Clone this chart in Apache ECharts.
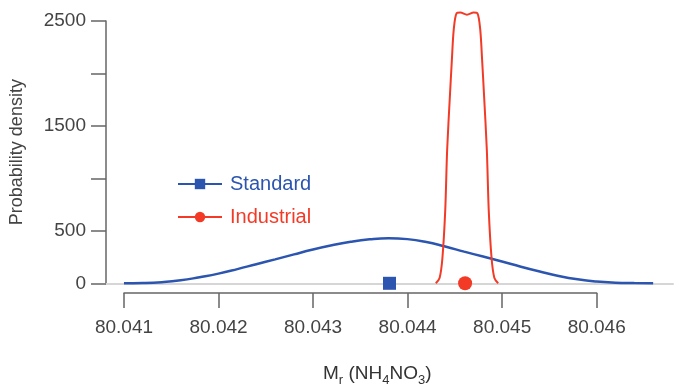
<!DOCTYPE html>
<html>
<head>
<meta charset="utf-8">
<script src="https://cdn.jsdelivr.net/npm/echarts@6/dist/echarts.min.js"></script>
<style>
html, body { margin: 0; padding: 0; background: #fff; }
#chart { width: 692px; height: 384px; }
</style>
</head>
<body>
<div id="chart"></div>
<script>
// Standard (blue) distribution
var standardX = [80.0410, 80.0412, 80.0414, 80.0416, 80.0418, 80.0420, 80.0422, 80.0424, 80.0426, 80.0428,
                 80.0430, 80.0432, 80.0434, 80.0436, 80.0438, 80.0440, 80.0442, 80.0444, 80.0446, 80.0448,
                 80.0450, 80.0452, 80.0454, 80.0456, 80.0458, 80.0460, 80.0462, 80.0464, 80.0466];
var standardY = [0, 2, 10, 28, 58, 92, 135, 182, 228, 276,
                 322, 362, 396, 419, 429, 421, 394, 350, 302, 255,
                 208, 158, 112, 70, 38, 17, 6, 2, 0];

// Industrial (red) distribution
var industrialX = [80.04430, 80.04434, 80.04437, 80.04440, 80.04442, 80.04445, 80.04447, 80.04449, 80.04452, 80.04456,
                   80.04463, 80.04470, 80.04474, 80.04477, 80.04479, 80.04481, 80.04484, 80.04486, 80.04489, 80.04492, 80.04496];
var industrialY = [0, 50, 241, 700, 1271, 1800, 2129, 2420, 2574, 2580,
                   2560, 2580, 2574, 2420, 2129, 1800, 1271, 700, 241, 50, 0];

// means shown as markers on the zero line
var standardMean = [80.04381, 0];
var industrialMean = [80.04461, 0];

var xTickMin = 80.041, xTickMax = 80.046, xTickStep = 0.001;
var yLabels = [0, 500, 1500, 2500];

var blue = '#2c55b0';
var red = '#f23a26';

function pairs(xs, ys) {
	return xs.map(function (x, i) { return [x, ys[i]]; });
}

var myChart = echarts.init(document.getElementById('chart'));
var option = {
	animation: false,
	title: {
		text: '{n|M}{s|r}{n| (NH}{s|4}{n|NO}{s|3}{n|)}',
		left: 318,
		top: 356,
		textStyle: {
			fontWeight: 'normal',
			rich: {
				n: { fontSize: 19, fontWeight: 'normal', fontFamily: 'Liberation Sans', color: '#333', lineHeight: 26, verticalAlign: 'middle' },
				s: { fontSize: 13, fontWeight: 'normal', fontFamily: 'Liberation Sans', color: '#333', lineHeight: 16, verticalAlign: 'bottom' }
			}
		}
	},
	legend: {
		orient: 'vertical',
		left: 177,
		top: 174,
		padding: 0,
		itemWidth: 44,
		itemHeight: 13,
		itemGap: 13,
		data: [
			{ name: 'Standard', textStyle: { color: blue } },
			{ name: 'Industrial', textStyle: { color: red } }
		],
		textStyle: {
			fontSize: 20,
			fontFamily: 'Liberation Sans',
			padding: [0, 0, 0, 3]
		}
	},
	grid: [
		{ left: 106, right: 19, top: 21, bottom: 100.7 },
		{ left: 124, right: 95.3, top: 250, bottom: 91 }
	],
	xAxis: [
		{
			type: 'value',
			gridIndex: 0,
			min: 80.04081,
			max: 80.04681,
			axisLine: { show: true, lineStyle: { color: '#d6d6d6', width: 2 } },
			axisTick: { show: false },
			axisLabel: { show: false },
			splitLine: { show: false }
		},
		{
			type: 'value',
			gridIndex: 1,
			min: xTickMin,
			max: xTickMax,
			interval: xTickStep,
			axisLine: { show: true, lineStyle: { color: '#666', width: 1.5 } },
			axisTick: { show: true, length: 15, lineStyle: { color: '#666', width: 1.5 } },
			axisLabel: {
				margin: 25,
				fontSize: 19,
				fontFamily: 'Liberation Sans',
				color: '#444',
				formatter: function (v) { return v.toFixed(3); }
			},
			splitLine: { show: false }
		}
	],
	yAxis: [
		{
			type: 'value',
			gridIndex: 0,
			min: 0,
			max: 2500,
			interval: 500,
			name: 'Probability density',
			nameLocation: 'middle',
			nameGap: 80,
			nameTextStyle: { fontSize: 18, fontFamily: 'Liberation Sans', color: '#444' },
			axisLine: { show: true, lineStyle: { color: '#666', width: 1.5 } },
			axisTick: { show: true, length: 15, lineStyle: { color: '#666', width: 1.5 } },
			axisLabel: {
				margin: 20,
				fontSize: 19,
				fontFamily: 'Liberation Sans',
				color: '#444',
				formatter: function (v) { return yLabels.indexOf(v) >= 0 ? String(v) : ''; }
			},
			splitLine: { show: false }
		},
		{ type: 'value', gridIndex: 1, show: false }
	],
	series: [
		{
			name: 'Standard',
			type: 'line',
			xAxisIndex: 0,
			yAxisIndex: 0,
			smooth: 0.5,
			clip: false,
			symbol: 'rect',
			symbolSize: 11,
			showSymbol: false,
			itemStyle: { color: blue },
			lineStyle: { color: blue, width: 2.5 },
			data: pairs(standardX, standardY)
		},
		{
			name: 'Industrial',
			type: 'line',
			xAxisIndex: 0,
			yAxisIndex: 0,
			smooth: 0.3,
			clip: false,
			symbol: 'circle',
			symbolSize: 12,
			showSymbol: false,
			itemStyle: { color: red },
			lineStyle: { color: red, width: 2 },
			data: pairs(industrialX, industrialY)
		},
		{
			name: 'Standard mean',
			type: 'scatter',
			symbol: 'rect',
			symbolSize: 13,
			clip: false,
			itemStyle: { color: blue, opacity: 1 },
			z: 5,
			data: [standardMean]
		},
		{
			name: 'Industrial mean',
			type: 'scatter',
			symbol: 'circle',
			symbolSize: 14,
			clip: false,
			itemStyle: { color: red, opacity: 1 },
			z: 5,
			data: [industrialMean]
		}
	]
};
myChart.setOption(option);
</script>
</body>
</html>
